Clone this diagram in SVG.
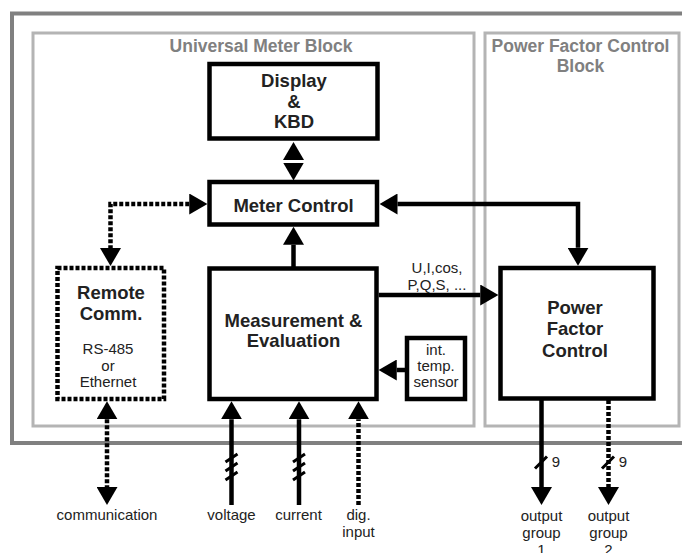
<svg xmlns="http://www.w3.org/2000/svg" width="682" height="553" viewBox="0 0 682 553">
<style>
.frame{fill:none;stroke:#808080;stroke-width:4}
.blk{fill:none;stroke:#b4b4b4;stroke-width:3}
.box{fill:#fff;stroke:#000;stroke-width:4.5}
.dbox{fill:#fff;stroke:#000;stroke-width:4.5;stroke-dasharray:4 2}
.ln{fill:none;stroke:#000;stroke-width:4.5}
.dl{fill:none;stroke:#000;stroke-width:4.5;stroke-dasharray:4 2}
.sl{fill:none;stroke:#000;stroke-width:3}
.h{font-family:"Liberation Sans",Arial,sans-serif;font-weight:bold;font-size:17.5px;fill:#808080;text-anchor:middle}
.b{font-family:"Liberation Sans",Arial,sans-serif;font-weight:bold;font-size:18.5px;fill:#222;text-anchor:middle}
.t{font-family:"Liberation Sans",Arial,sans-serif;font-size:15px;fill:#222;text-anchor:middle}
</style>
<defs>
<marker id="ah" markerUnits="userSpaceOnUse" viewBox="0 0 18 21" markerWidth="18" markerHeight="21" refX="0" refY="10.5" orient="auto-start-reverse">
<path d="M0,0 L18,10.5 L0,21 Z" fill="#000"/>
</marker>
</defs>
<rect width="682" height="553" fill="#fff"/>
<g id="frames">
<rect class="frame" x="12" y="13.5" width="690" height="429.5"/>
<rect id="universal-meter-block" class="blk" x="33" y="33" width="441" height="393"/>
<rect id="pfc-block" class="blk" x="485" y="33" width="194" height="393"/>
<text class="h" x="261" y="52">Universal Meter Block</text>
<text class="h" x="580.5" y="52">Power Factor Control</text>
<text class="h" x="580.5" y="72">Block</text>
</g>
<g id="connectors">
<path d="M293.5,160 V162.5" style="fill:none;stroke:none" marker-start="url(#ah)" marker-end="url(#ah)"/>
<path class="ln" d="M293.5,268.5 V244.75" marker-end="url(#ah)"/>
<path class="ln" d="M397.5,204 H578 V247.75" marker-start="url(#ah)" marker-end="url(#ah)"/>
<path class="dl" d="M189.25,204 H110.5 V248" marker-start="url(#ah)" marker-end="url(#ah)"/>
<path class="ln" d="M378.75,295 H480.25" marker-end="url(#ah)"/>
<path class="ln" d="M407,370 H396.75" marker-end="url(#ah)"/>
<path class="dl" d="M107,419.25 V487" marker-start="url(#ah)" marker-end="url(#ah)"/>
<path class="ln" d="M231.5,505 V419.25" marker-end="url(#ah)"/>
<path class="ln" d="M299,505 V419.25" marker-end="url(#ah)"/>
<path class="dl" d="M358.5,505 V419.25" marker-end="url(#ah)"/>
<path class="ln" d="M541.5,400 V487" marker-end="url(#ah)"/>
<path class="dl" d="M608.5,400 V487" marker-end="url(#ah)"/>
<path class="sl" d="M225.5,462 L237.5,454 M225.5,471 L237.5,463 M225.5,480 L237.5,472"/>
<path class="sl" d="M293,462 L305,454 M293,471 L305,463 M293,480 L305,472"/>
<path class="sl" d="M535,468.5 L547,456.5"/>
<path class="sl" d="M602,468.5 L614,456.5"/>
<text class="t" x="437" y="273">U,I,cos,</text>
<text class="t" x="437" y="290">P,Q,S, ...</text>
<text class="t" x="556" y="467">9</text>
<text class="t" x="623" y="467">9</text>
</g>
<g id="display-kbd">
<rect class="box" x="209.5" y="64" width="168" height="74.5"/>
<text class="b" x="294" y="87">Display</text>
<text class="b" x="294" y="107.5">&amp;</text>
<text class="b" x="294" y="128">KBD</text>
</g>
<g id="meter-control">
<rect class="box" x="209.5" y="182" width="167.5" height="42.5"/>
<text class="b" x="293.5" y="211.5">Meter Control</text>
</g>
<g id="remote-comm">
<rect class="dbox" x="57.5" y="268" width="106.5" height="131"/>
<text class="b" x="111" y="298.5">Remote</text>
<text class="b" x="111" y="319.5">Comm.</text>
<text class="t" x="108" y="353.5">RS-485</text>
<text class="t" x="108" y="370.5">or</text>
<text class="t" x="108" y="386.5">Ethernet</text>
</g>
<g id="measurement">
<rect class="box" x="209.5" y="268.5" width="167" height="130.5"/>
<text class="b" x="293.5" y="326.5">Measurement &amp;</text>
<text class="b" x="293.5" y="346.5">Evaluation</text>
</g>
<g id="temp-sensor">
<rect class="box" x="407" y="338" width="58" height="61"/>
<text class="t" x="436" y="355">int.</text>
<text class="t" x="436" y="371">temp.</text>
<text class="t" x="436" y="387">sensor</text>
</g>
<g id="power-factor-control">
<rect class="box" x="500.5" y="268" width="153" height="130.5"/>
<text class="b" x="575" y="313.5">Power</text>
<text class="b" x="575" y="335">Factor</text>
<text class="b" x="575" y="356.5">Control</text>
</g>
<g id="labels">
<text class="t" x="107" y="520">communication</text>
<text class="t" x="231.5" y="520">voltage</text>
<text class="t" x="298.5" y="520">current</text>
<text class="t" x="358.5" y="520">dig.</text>
<text class="t" x="358.5" y="537">input</text>
<text class="t" x="541.5" y="520.5">output</text>
<text class="t" x="541.5" y="537.5">group</text>
<text class="t" x="541.5" y="555">1</text>
<text class="t" x="608.5" y="520.5">output</text>
<text class="t" x="608.5" y="537.5">group</text>
<text class="t" x="608.5" y="555">2</text>
</g>
</svg>
